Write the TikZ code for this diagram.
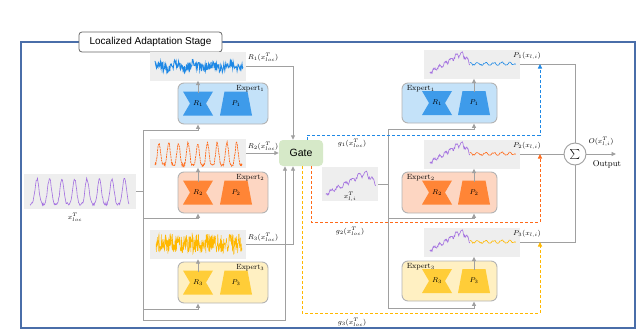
\documentclass[tikz,border=0pt]{standalone}
\usepackage{fontspec}
\setsansfont{Liberation Sans}
\usetikzlibrary{arrows.meta,positioning,calc}
\definecolor{framecol}{HTML}{4A6EA9}
\definecolor{linegray}{HTML}{A0A0A0}
\definecolor{boxgray}{HTML}{EEEEEE}
\definecolor{gatecol}{HTML}{D6E9C8}
\definecolor{blueline}{HTML}{1E88E5}
\definecolor{bluefill}{HTML}{C4E2F9}
\definecolor{blueshape}{HTML}{3E9BEA}
\definecolor{orgline}{HTML}{FF6A1A}
\definecolor{orgfill}{HTML}{FDD6C2}
\definecolor{orgshape}{HTML}{FF8536}
\definecolor{yelline}{HTML}{FFB800}
\definecolor{yelfill}{HTML}{FFF0C2}
\definecolor{yelshape}{HTML}{FFCD38}
\definecolor{purpline}{HTML}{A26EE0}

\begin{document}
\begin{tikzpicture}[
  x=1pt,y=-1pt,
  every node/.style={inner sep=0pt},
  series/.style={fill=boxgray,minimum width=96pt,minimum height=29pt},
  expert/.style={draw=linegray!80,rounded corners=6pt,line width=0.9pt,minimum width=90pt,minimum height=41pt,fill=#1},
  lab/.style={font=\fontsize{7.5}{8}\selectfont},
  arr/.style={draw=linegray,line width=0.9pt,-{Triangle[length=4.5pt,width=4pt]}},
  link/.style={draw=linegray,line width=0.9pt},
  gdash/.style={draw=#1,line width=0.9pt,dash pattern=on 3pt off 2pt,-{Triangle[length=4.5pt,width=4pt]}},
  pics/hglass/.style={code={\fill[#1] (-15,-12) -- (15,-12) -- (8,0) -- (15,12) -- (-15,12) -- (-8,0) -- cycle;}},
  pics/trap/.style={code={\fill[#1] (-11.5,-12) -- (11.5,-12) -- (16,12) -- (-16,12) -- cycle;}},
  pics/hist/.style={code={\pgfmathsetseed{5}
    \draw[purpline,line width=0.6pt] plot[domain=0:40,samples=70] (\x,{ifthenelse(\x<32,-0.62*\x,-19.8+1.3*(\x-32))+1.8*sin(\x*65)+1.4*rand});}},
  pics/fcast/.style={code={\pic at (6,-6) {hist};
    \pgfmathsetseed{9}
    \draw[#1,line width=0.6pt] plot[domain=46:92,samples=50] (\x,{-15+1.2*sin(\x*45)+0.9*rand});}}
]
\useasboundingbox (0,0) rectangle (640,332);
% stage frame and title
\node[draw=framecol,line width=1.2pt,minimum width=614pt,minimum height=286pt] (stage) at (328,185) {};
\node[draw=black!60,fill=white,rounded corners=3pt,line width=0.8pt,minimum width=143pt,minimum height=20pt,font=\sffamily\fontsize{10}{11}\selectfont] (title) at (150.5,42) {Localized Adaptation Stage};

% inputs
\node[fill=boxgray,minimum width=112pt,minimum height=35pt] (xin) at (80,191) {};
\node[lab] (xinlab) at (75,217) {$x^T_{loc}$};
\node[fill=boxgray,minimum width=56pt,minimum height=34pt] (xft) at (350,184) {};
\node[lab] (xftlab) at (350,197) {$x^T_{l,i}$};
\pgfmathsetseed{3}
\draw[purpline,line width=0.6pt] plot[domain=30:129,samples=160] (\x,{204-25*(0.5+0.5*cos((\x-37)*28.8))^2+1.5*rand});
\pic[xscale=1.25,yscale=1.1] at ($(xft.south west)+(4,-7)$) {hist};

% gate and sum
\node[fill=gatecol,rounded corners=4pt,minimum width=44pt,minimum height=26pt,font=\sffamily\fontsize{10.5}{11}\selectfont] (gate) at (301,153) {Gate};
\node[circle,draw=linegray,line width=0.9pt,fill=white,minimum size=22pt,font=\fontsize{11}{11}\selectfont] (sum) at (575,154) {$\sum$};
\coordinate (out) at (616,154);

% left experts and their series
\node[series] (rb1) at (198,66) {};
\node[series] (rb2) at (198,153) {};
\node[series] (rb3) at (198,244.5) {};
\pgfmathsetseed{21}
\draw[blueline,line width=0.9pt] plot[domain=155:243,samples=180] (\x,{66+2.5*sin(\x*20)+4.5*rand});
\draw[orgline,line width=0.7pt,dash pattern=on 2pt off 0.7pt] plot[domain=155:242,samples=200] (\x,{165-22*(0.5+0.5*cos((\x-159)*37.1))^2+1.5*rand});
\draw[yelline,line width=0.5pt] plot[domain=156:242,samples=260] (\x,{max(234,244+10*rand)});
\node[lab] at (263,57) {$R_1(x^T_{loc})$};
\node[lab] at (263,146) {$R_2(x^T_{loc})$};
\node[lab] at (263,237) {$R_3(x^T_{loc})$};

\node[expert=bluefill] (le1) at (223,103.5) {};
\node[expert=orgfill] (le2) at (223,192.5) {};
\node[expert=yelfill] (le3) at (223,282.5) {};
\pic at ($(le1)+(-25,0)$) {hglass=blueshape};
\pic at ($(le1)+(13,0)$) {trap=blueshape};
\pic at ($(le2)+(-25,0)$) {hglass=orgshape};
\pic at ($(le2)+(13,0)$) {trap=orgshape};
\pic at ($(le3)+(-25,0)$) {hglass=yelshape};
\pic at ($(le3)+(13,0)$) {trap=yelshape};
\node[lab] (lr1) at ($(le1)+(-25,0)$) {$R_1$};
\node[lab] (lp1) at ($(le1)+(13,0)$) {$P_1$};
\node[lab] (lr2) at ($(le2)+(-25,0)$) {$R_2$};
\node[lab] (lp2) at ($(le2)+(13,0)$) {$P_2$};
\node[lab] (lr3) at ($(le3)+(-25,0)$) {$R_3$};
\node[lab] (lp3) at ($(le3)+(13,0)$) {$P_3$};
\node[lab,anchor=north east] at ($(le1.north east)+(-4,3)$) {Expert$_1$};
\node[lab,anchor=north east] at ($(le2.north east)+(-4,3)$) {Expert$_2$};
\node[lab,anchor=north east] at ($(le3.north east)+(-4,3)$) {Expert$_3$};

% right experts and their series
\node[series] (pb1) at (472,64) {};
\node[series] (pb2) at (472,154) {};
\node[series] (pb3) at (472,242) {};
\pic at (pb1.south west) {fcast=blueline};
\pic at (pb2.south west) {fcast=orgline};
\pic at (pb3.south west) {fcast=yelline};
\node[lab] at (527,56) {$P_1(x_{l,i})$};
\node[lab] at (527,146) {$P_2(x_{l,i})$};
\node[lab] at (527,234) {$P_3(x_{l,i})$};

\node[expert=bluefill,minimum width=95pt,minimum height=40pt] (re1) at (449.5,103) {};
\node[expert=orgfill,minimum width=95pt] (re2) at (449.5,192.5) {};
\node[expert=yelfill,minimum width=95pt,minimum height=40pt] (re3) at (449.5,281) {};
\pic at ($(re1)+(-12.5,0)$) {hglass=blueshape};
\pic at ($(re1)+(24.5,0)$) {trap=blueshape};
\pic at ($(re2)+(-12.5,0)$) {hglass=orgshape};
\pic at ($(re2)+(24.5,0)$) {trap=orgshape};
\pic at ($(re3)+(-12.5,0)$) {hglass=yelshape};
\pic at ($(re3)+(24.5,0)$) {trap=yelshape};
\node[lab] (rr1) at ($(re1)+(-12.5,0)$) {$R_1$};
\node[lab] (rp1) at ($(re1)+(24.5,0)$) {$P_1$};
\node[lab] (rr2) at ($(re2)+(-12.5,0)$) {$R_2$};
\node[lab] (rp2) at ($(re2)+(24.5,0)$) {$P_2$};
\node[lab] (rr3) at ($(re3)+(-12.5,0)$) {$R_3$};
\node[lab] (rp3) at ($(re3)+(24.5,0)$) {$P_3$};
\node[lab,anchor=north west] at ($(re1.north west)+(5,3)$) {Expert$_1$};
\node[lab,anchor=north west] at ($(re2.north west)+(5,3)$) {Expert$_2$};
\node[lab,anchor=north west] at ($(re3.north west)+(5,3)$) {Expert$_3$};

% left connectors
\draw[arr] (xin.east) -| (143,130) -| (lr1 |- le1.south);
\draw[arr] (xin.east) -| (143,218) -| (lr2 |- le2.south);
\draw[arr] (xin.east) -| (143,309) -| (lr3 |- le3.south);
\draw[arr] (xin.east) -| (143,320) -| ($(gate.south)+(-16,0)$);
\draw[arr] ($(lr1)+(0,-11)$) -- (lr1 |- rb1.south);
\draw[arr] ($(lr2)+(0,-11)$) -- (lr2 |- rb2.south);
\draw[arr] ($(lr3)+(0,-11)$) -- (lr3 |- rb3.south);
\draw[arr] (rb1.east) -| ($(gate.north)+(-8,0)$);
\draw[arr] (rb2.east) -- (gate.west);
\draw[arr] (rb3.east) -| ($(gate.south)+(-8,0)$);

% right connectors
\draw[arr] (xft.east) -| (388,129) -| (rp1 |- re1.south);
\draw[arr] (xft.east) -| (388,218) -| (rp2 |- re2.south);
\draw[arr] (xft.east) -| (388,308) -| (rp3 |- re3.south);
\draw[arr] ($(rp1)+(0,-11)$) -- (rp1 |- pb1.south);
\draw[arr] ($(rp2)+(0,-11)$) -- (rp2 |- pb2.south);
\draw[arr] ($(rp3)+(0,-11)$) -- (rp3 |- pb3.south);
\draw[link] (pb1.east) -| (sum.north);
\draw[link] (pb2.east) -- (sum.west);
\draw[link] (pb3.east) -| (sum.south);
\draw[arr] (sum.east) -- (out);
\node[lab] at (601,142) {$O(x^T_{l,i})$};
\node[lab,font=\fontsize{8.5}{9}\selectfont] at (607,164) {Output};

% gate weights
\coordinate (m1) at (540,64);
\coordinate (m2) at (540,154);
\coordinate (m3) at (540,242);
\draw[gdash=blueline] ($(gate.north)+(6,0)$) |- (540,135) -- (m1);
\draw[gdash=orgline] ($(gate.south)+(10,0)$) |- (540,222) -- (m2);
\draw[gdash=yelline] ($(gate.south)+(1,0)$) |- (540,313) -- (m3);
\node[lab] at (352,143) {$g_1(x^T_{loc})$};
\node[lab] at (350,231) {$g_2(x^T_{loc})$};
\node[lab] at (352,322) {$g_3(x^T_{loc})$};
\end{tikzpicture}
\end{document}
